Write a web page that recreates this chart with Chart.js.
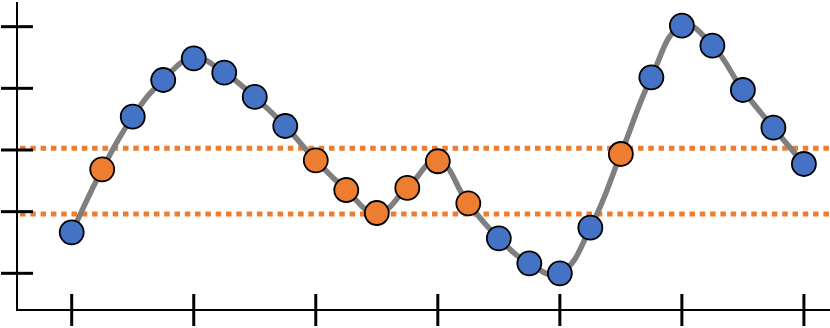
<!DOCTYPE html>
<html>
<head>
<meta charset="utf-8">
<script src="https://cdn.jsdelivr.net/npm/chart.js@4.4.1/dist/chart.umd.min.js"></script>
<style>
  html, body { margin: 0; padding: 0; background: #ffffff; }
  #wrap { width: 830px; height: 328px; }
</style>
</head>
<body>
<div id="wrap"><canvas id="c" width="830" height="328"></canvas></div>
<script>
// ---- data ----
const xValues = [0,1,2,3,4,5,6,7,8,9,10,11,12,13,14,15,16,17,18,19,20,21,22,23,24];
const yValues = [1.665, 2.687, 3.540, 4.135, 4.487, 4.254, 3.860, 3.389, 2.833, 2.351,
                 1.978, 2.384, 2.817, 2.135, 1.568, 1.162, 1.000, 1.740, 2.935, 4.179,
                 5.016, 4.692, 3.973, 3.362, 2.773];
const highlighted = [0,1,0,0,0,0,0,0,1,1,1,1,1,1,0,0,0,0,1,0,0,0,0,0,0];
const bandValues = [1.96, 3.03];
const yTicks = [1, 2, 3, 4, 5];
const xTicks = [0, 4, 8, 12, 16, 20, 24];

const BLUE = '#4472C4';
const ORANGE = '#ED7D31';

const points = xValues.map((x, i) => ({ x: x, y: yValues[i] }));
const pointColors = highlighted.map(h => h ? ORANGE : BLUE);

const axesPlugin = {
  id: 'customAxes',
  beforeDatasetsDraw(chart) {
    const { ctx, chartArea: a, scales: { x, y } } = chart;
    ctx.save();
    // band lines
    ctx.strokeStyle = ORANGE;
    ctx.lineWidth = 5;
    ctx.setLineDash([5.5, 4.8]);
    bandValues.forEach(b => {
      const py = y.getPixelForValue(b);
      ctx.beginPath();
      ctx.moveTo(a.left + 3, py);
      ctx.lineTo(a.right, py);
      ctx.stroke();
    });
    ctx.setLineDash([]);
    // axis lines
    ctx.strokeStyle = '#000000';
    ctx.lineWidth = 2;
    ctx.beginPath();
    ctx.moveTo(a.left, a.top);
    ctx.lineTo(a.left, a.bottom);
    ctx.lineTo(a.right, a.bottom);
    ctx.stroke();
    // tick marks
    ctx.lineWidth = 3;
    yTicks.forEach(t => {
      const py = y.getPixelForValue(t);
      ctx.beginPath();
      ctx.moveTo(a.left - 16, py);
      ctx.lineTo(a.left + 16, py);
      ctx.stroke();
    });
    xTicks.forEach(t => {
      const px = x.getPixelForValue(t);
      ctx.beginPath();
      ctx.moveTo(px, a.bottom - 16);
      ctx.lineTo(px, a.bottom + 16);
      ctx.stroke();
    });
    ctx.restore();
  }
};

new Chart(document.getElementById('c'), {
  type: 'line',
  data: {
    datasets: [{
      data: points,
      borderColor: '#7f7f7f',
      borderWidth: 5.5,
      tension: 0.45,
      fill: false,
      pointRadius: 12,
      pointHoverRadius: 12,
      pointBorderWidth: 1.8,
      pointBorderColor: '#000000',
      pointBackgroundColor: pointColors,
      clip: false
    }]
  },
  options: {
    responsive: false,
    animation: false,
    devicePixelRatio: 1,
    events: [],
    layout: { autoPadding: false, padding: { left: 17, top: 2, right: 0, bottom: 18 } },
    plugins: { legend: { display: false }, tooltip: { enabled: false } },
    scales: {
      x: { type: 'linear', display: false, min: -1.793, max: 24.855 },
      y: { type: 'linear', display: false, min: 0.405, max: 5.40 }
    }
  },
  plugins: [axesPlugin]
});
</script>
</body>
</html>
